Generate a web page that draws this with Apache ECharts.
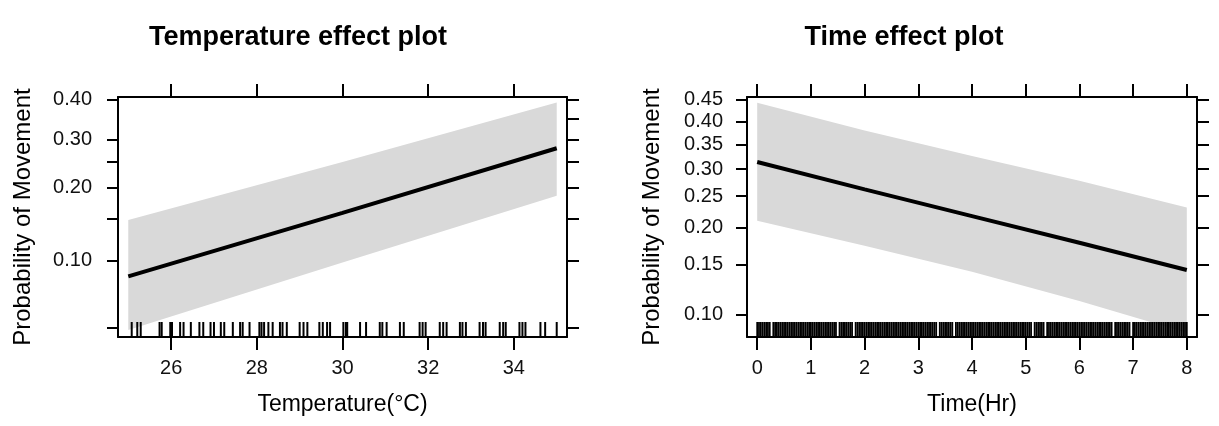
<!DOCTYPE html>
<html>
<head>
<meta charset="utf-8">
<script src="https://cdn.jsdelivr.net/npm/echarts@6/dist/echarts.min.js"></script>
<style>
  html, body { margin: 0; padding: 0; background: #fff; }
  #chart { width: 1219px; height: 426px; }
</style>
</head>
<body>
<div id="chart"></div>
<script>
// ---- Temperature panel: fitted probability and 95% band ----
const tempX = [25, 30, 35];
const tempFit = [0.085, 0.159, 0.280];
const tempLower = [0.0486, 0.098, 0.186];
const tempUpper = [0.1485, 0.250, 0.393];
// observed temperatures (rug)
const tempRug = [25.08, 25.21, 25.29, 25.73, 25.78, 25.98, 26.02, 26.21, 26.29, 26.46,
  26.66, 26.75, 26.92, 27.0, 27.16, 27.24, 27.44, 27.61, 27.67, 27.83, 28.06, 28.11,
  28.17, 28.27, 28.37, 28.54, 28.6, 28.7, 29.0, 29.09, 29.18, 29.46, 29.54, 29.64,
  29.71, 30.02, 30.08, 30.11, 30.41, 30.55, 30.87, 30.93, 31.03, 31.34, 31.43, 31.8,
  31.87, 31.94, 32.27, 32.35, 32.43, 32.74, 32.8, 32.88, 33.2, 33.28, 33.34, 33.67,
  33.75, 33.81, 34.13, 34.2, 34.27, 34.62, 34.73, 35.0];
const tempXRange = [24.76, 35.24];
const tempXTicks = [26, 28, 30, 32, 34];
const tempYRange = [0.0451, 0.408];
const tempYLabelTicks = [0.10, 0.20, 0.30, 0.40];
const tempYLeftTicks = [0.05, 0.10, 0.15, 0.20, 0.25, 0.30, 0.40];
const tempYRightTicks = [0.05, 0.10, 0.15, 0.20, 0.25, 0.30, 0.35, 0.40];

// ---- Time panel ----
const timeX = [0, 2, 4, 6, 8];
const timeFit = [0.314, 0.262, 0.217, 0.178, 0.144];
const timeLower = [0.210, 0.174, 0.142, 0.112, 0.086];
const timeUpper = [0.442, 0.380, 0.326, 0.278, 0.231];
// observation times in minutes (rug)
const timeRugMinutes = [
  0, 2, 4, 6, 8, 10, 12, 14, 18, 20, 22, 24, 26, 28, 30, 32, 34, 36, 38, 40,
  42, 44, 46, 48, 50, 52, 54, 56, 58, 60, 62, 64, 66, 68, 70, 72, 74, 76, 78, 80,
  82, 84, 86, 88, 92, 94, 96, 98, 100, 102, 104, 106, 110, 112, 114, 116, 118, 120,
  122, 124, 126, 128, 130, 132, 134, 136, 138, 140, 142, 144, 146, 148, 150, 152,
  154, 156, 158, 160, 162, 164, 166, 168, 170, 172, 174, 176, 178, 180, 182, 184,
  186, 188, 190, 192, 194, 196, 198, 200, 204, 206, 208, 210, 212, 214, 216, 218,
  222, 224, 226, 228, 230, 232, 234, 236, 238, 240, 242, 244, 246, 248, 250, 252,
  254, 256, 258, 260, 262, 264, 266, 268, 270, 272, 274, 276, 278, 280, 282, 284,
  286, 288, 290, 292, 294, 296, 298, 300, 302, 304, 306, 310, 312, 314, 316, 318,
  320, 324, 326, 328, 330, 332, 334, 336, 338, 340, 342, 344, 346, 348, 350, 352,
  354, 356, 358, 360, 362, 364, 366, 368, 370, 372, 374, 376, 378, 380, 382, 384,
  386, 388, 390, 392, 394, 396, 400, 402, 404, 406, 408, 410, 412, 414, 416, 420,
  422, 424, 426, 428, 430, 432, 434, 436, 438, 440, 442, 444, 446, 448, 450, 452,
  454, 456, 458, 460, 462, 464, 466, 468, 470, 472, 474, 476, 478, 480];
const timeXRange = [-0.19, 8.19];
const timeXTicks = [0, 1, 2, 3, 4, 5, 6, 7, 8];
const timeYRange = [0.0829, 0.4554];
const timeYTicks = [0.10, 0.15, 0.20, 0.25, 0.30, 0.35, 0.40, 0.45];

// logit link used by the vertical scale
const logit = p => Math.log(p / (1 - p));
const invLogit = v => 1 / (1 + Math.exp(-v));

const FONT = '"Liberation Sans", Arial, sans-serif';
const INK = '#000';
const BAND = '#d9d9d9';
const RUG_LEN = 15;

function xAxes(gridIndex, range, ticks, name) {
  const common = {
    type: 'value', gridIndex, min: range[0], max: range[1],
    axisLine: { show: true, onZero: false, lineStyle: { color: INK, width: 2 } },
    splitLine: { show: false }
  };
  return [
    Object.assign({}, common, {
      position: 'bottom',
      name, nameLocation: 'middle', nameGap: 56, nameMoveOverlap: false,
      nameTextStyle: { fontFamily: FONT, fontSize: 23, color: INK },
      axisTick: { show: true, length: 13, lineStyle: { color: INK, width: 2 }, customValues: ticks },
      axisLabel: { show: true, margin: 21, fontFamily: FONT, fontSize: 20, color: '#111', customValues: ticks,
        formatter: v => String(v) }
    }),
    Object.assign({}, common, {
      position: 'top',
      axisTick: { show: true, length: 13, lineStyle: { color: INK, width: 2 }, customValues: ticks },
      axisLabel: { show: false }
    })
  ];
}

function yAxes(gridIndex, range, leftTicks, labelTicks, rightTicks, nameGap, labelMargin) {
  const common = {
    type: 'value', gridIndex, min: logit(range[0]), max: logit(range[1]),
    axisLine: { show: true, onZero: false, lineStyle: { color: INK, width: 2 } },
    splitLine: { show: false }
  };
  return [
    Object.assign({}, common, {
      position: 'left',
      name: 'Probability of Movement', nameLocation: 'middle', nameGap, nameRotate: 90,
      nameMoveOverlap: false,
      nameTextStyle: { fontFamily: FONT, fontSize: 24, color: INK },
      axisTick: { show: true, length: 11, lineStyle: { color: INK, width: 2 }, customValues: leftTicks.map(logit) },
      axisLabel: { show: true, margin: labelMargin, fontFamily: FONT, fontSize: 20, color: '#111',
        customValues: labelTicks.map(logit),
        formatter: v => invLogit(v).toFixed(2) }
    }),
    Object.assign({}, common, {
      position: 'right',
      axisTick: { show: true, length: 12, lineStyle: { color: INK, width: 2 }, customValues: rightTicks.map(logit) },
      axisLabel: { show: false }
    })
  ];
}

function bandSeries(axisIdx, xs, lower, upper) {
  return {
    type: 'custom', xAxisIndex: axisIdx, yAxisIndex: axisIdx, z: 1, silent: true,
    data: [[xs[0], logit(lower[0])]],
    renderItem: (params, api) => {
      const pts = [];
      for (let i = 0; i < xs.length; i++) pts.push(api.coord([xs[i], logit(upper[i])]));
      for (let i = xs.length - 1; i >= 0; i--) pts.push(api.coord([xs[i], logit(lower[i])]));
      return { type: 'polygon', shape: { points: pts }, style: { fill: BAND } };
    }
  };
}

function fitSeries(axisIdx, xs, fit) {
  return {
    type: 'line', xAxisIndex: axisIdx, yAxisIndex: axisIdx, z: 4, silent: true,
    symbol: 'none', data: xs.map((x, i) => [x, logit(fit[i])]),
    lineStyle: { color: INK, width: 4 }
  };
}

function rugSeries(axisIdx, values, yBase, width) {
  return {
    type: 'custom', xAxisIndex: axisIdx, yAxisIndex: axisIdx, z: 3, silent: true,
    data: values.map(v => [v, yBase]),
    renderItem: (params, api) => {
      const p = api.coord([api.value(0), api.value(1)]);
      return {
        type: 'line',
        shape: { x1: p[0], y1: p[1], x2: p[0], y2: p[1] - RUG_LEN },
        style: { stroke: INK, lineWidth: width }
      };
    }
  };
}

const tx = xAxes(0, tempXRange, tempXTicks, 'Temperature(°C)');
const hx = xAxes(1, timeXRange, timeXTicks, 'Time(Hr)');
const ty = yAxes(0, tempYRange, tempYLeftTicks, tempYLabelTicks, tempYRightTicks, 83, 26);
const hy = yAxes(1, timeYRange, timeYTicks, timeYTicks, timeYTicks, 83, 24);

const option = {
  backgroundColor: '#fff',
  animation: false,
  textStyle: { fontFamily: FONT },
  grid: [
    { left: 118, top: 97, width: 449, height: 240 },
    { left: 747, top: 97, width: 450, height: 240 }
  ],
  // axis order: 0 temp-bottom, 1 time-bottom, 2 temp-top, 3 time-top
  xAxis: [tx[0], hx[0], tx[1], hx[1]],
  yAxis: [ty[0], hy[0], ty[1], hy[1]],
  graphic: [
    { type: 'text', x: 298, y: 38, style: { text: 'Temperature effect plot', font: 'bold 27px ' + FONT, fill: INK, align: 'center', verticalAlign: 'middle' } },
    { type: 'text', x: 904, y: 38, style: { text: 'Time effect plot', font: 'bold 27px ' + FONT, fill: INK, align: 'center', verticalAlign: 'middle' } }
  ],
  series: [
    bandSeries(0, tempX, tempLower, tempUpper),
    fitSeries(0, tempX, tempFit),
    rugSeries(0, tempRug, logit(tempYRange[0]), 2),
    bandSeries(1, timeX, timeLower, timeUpper),
    fitSeries(1, timeX, timeFit),
    rugSeries(1, timeRugMinutes.map(m => m / 60), logit(timeYRange[0]), 1.8)
  ]
};

const chart = echarts.init(document.getElementById('chart'), null, { renderer: 'canvas' });
chart.setOption(option);
</script>
</body>
</html>
